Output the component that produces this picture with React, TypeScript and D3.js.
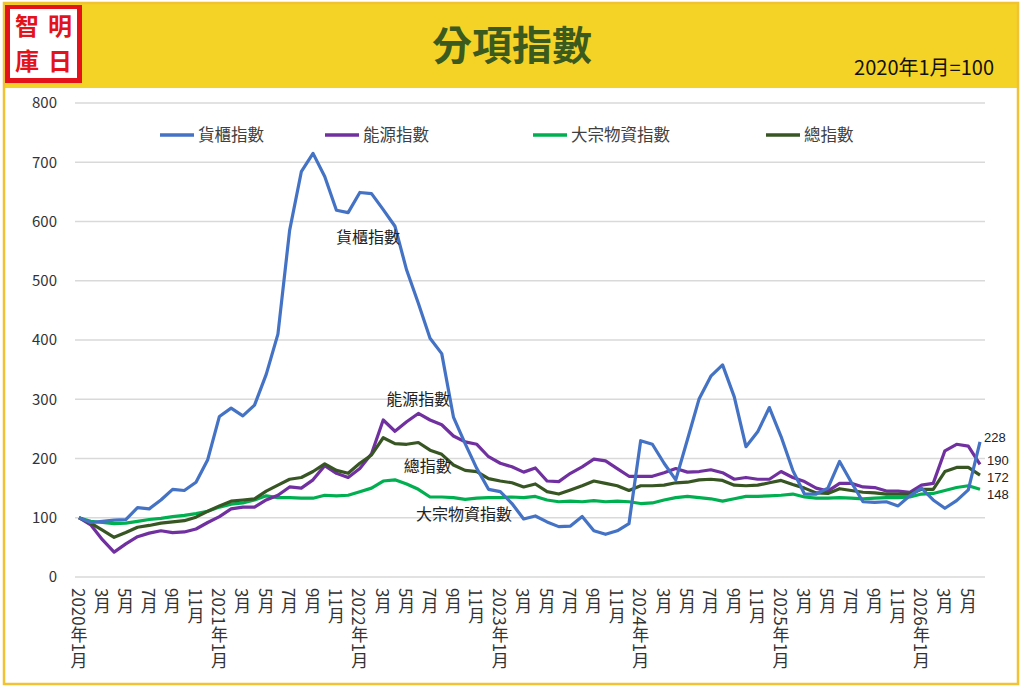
import * as d3 from 'd3'

// Monthly, 2020-01 .. 2026-06 (2020年1月 = 100)
const MONTHS = d3.range(78)

const CONTAINER = [
  100, 92, 94, 96, 97, 117, 115, 130, 148, 146, 160, 198,
  271, 285, 272, 290, 342, 410, 585, 684, 715, 676, 619, 615,
  649, 647, 620, 592, 518, 462, 403, 377, 270, 225, 183, 148,
  144, 124, 98, 103, 93, 85, 86, 102, 78, 72, 78, 90,
  230, 224, 192, 164, 232, 301, 339, 358, 304, 220, 245, 286,
  237, 180, 140, 140, 150, 195, 160, 127, 126, 127, 120, 137,
  150, 130, 116, 129, 147, 228,
]
const ENERGY = [
  100, 88, 63, 42, 56, 68, 74, 78, 75, 76, 81, 92,
  102, 115, 118, 118, 130, 138, 152, 150, 164, 188, 175, 168,
  183, 208, 265, 246, 262, 276, 265, 257, 238, 228, 224, 203,
  192, 186, 177, 184, 162, 161, 175, 186, 199, 196, 183, 170,
  170, 170, 176, 183, 177, 178, 181, 176, 165, 168, 165, 165,
  178, 168, 161, 150, 145, 158, 158, 152, 151, 145, 145, 143,
  155, 158, 213, 224, 221, 190,
]
const BULK = [
  100, 94, 92, 90, 91, 94, 97, 99, 102, 104, 107, 111,
  118, 123, 125, 130, 137, 134, 134, 133, 133, 138, 137, 138,
  144, 150, 162, 164, 157, 148, 135, 135, 134, 131, 133, 134,
  134, 135, 134, 136, 130, 127, 128, 127, 129, 127, 128, 127,
  124, 125, 130, 134, 136, 134, 132, 128, 132, 136, 136, 137,
  138, 140, 135, 133, 133, 134, 133, 132, 133, 134, 134, 135,
  140, 141, 146, 151, 154, 148,
]
const TOTAL = [
  100, 91, 79, 67, 75, 84, 87, 91, 93, 95, 101, 111,
  120, 128, 130, 132, 145, 155, 165, 168, 178, 191, 180, 175,
  192, 206, 235, 225, 224, 227, 214, 207, 189, 180, 178, 166,
  162, 159, 152, 157, 144, 140, 147, 154, 162, 158, 154, 146,
  154, 154, 155, 159, 160, 164, 165, 163, 155, 154, 155, 159,
  163, 156, 150, 142, 141, 149, 146, 143, 142, 140, 140, 140,
  148, 148, 178, 185, 185, 172,
]

const Y_TICKS = [0, 100, 200, 300, 400, 500, 600, 700, 800]

const SERIES_NAMES = ['貨櫃指數', '能源指數', '大宗物資指數', '總指數']
const SERIES_COLORS = ['#4472C4', '#7030A0', '#00B050', '#375623']
const SERIES_DATA = [CONTAINER, ENERGY, BULK, TOTAL]

// in-chart series labels, placed in data space (month index, value)
const INLINE_LABELS = [
  { text: '貨櫃指數', i: 24.7, v: 574 },
  { text: '能源指數', i: 29, v: 299 },
  { text: '總指數', i: 29.8, v: 186 },
  { text: '大宗物資指數', i: 32.9, v: 105 },
]

// end-of-line value labels
const END_LABELS = [
  { value: 228, dy: -4, dx: 4 },
  { value: 190, dy: -4, dx: 7 },
  { value: 172, dy: 2, dx: 7 },
  { value: 148, dy: 5, dx: 7 },
]

const LOGO = [
  { c: '智', col: 0, row: 0 },
  { c: '明', col: 1, row: 0 },
  { c: '庫', col: 0, row: 1 },
  { c: '日', col: 1, row: 1 },
]

function monthLabel(i: number): string {
  const y = 2020 + Math.floor(i / 12)
  const m = (i % 12) + 1
  return m === 1 ? `${y}年${m}月` : `${m}月`
}

const W = 1024
const H = 690
const FONT = '"Noto Sans CJK TC", "Noto Sans", sans-serif'

export default function App() {
  const x = d3.scalePoint<number>().domain(MONTHS).range([79, 980])
  const y = d3.scaleLinear().domain([0, 800]).range([577, 103])

  const line = d3
    .line<number>()
    .x((_, i) => x(i) ?? 0)
    .y((d) => y(d))

  const tickMonths = MONTHS.filter((i) => i % 2 === 0)
  const lastX = x(77) ?? 0

  return (
    <div style={{ position: 'absolute', left: 0, top: 0 }}>
      <svg width={W} height={H} style={{ display: 'block', background: '#fff' }}>
        {/* header band + frame */}
        <rect x={3} y={2} width={1016} height={86} fill="#F5D326" />
        <rect x={4} y={3} width={1014} height={681} fill="none" stroke="#F1C232" strokeWidth={2.5} />

        {/* logo */}
        <rect x={5} y={5} width={77} height={78} fill="#E3121B" />
        <rect x={10} y={9} width={67} height={69} fill="#fff" />
        {LOGO.map((l) => (
          <text
            key={l.c}
            x={27 + l.col * 33}
            y={26 + l.row * 35}
            dy="0.36em"
            textAnchor="middle"
            fontSize={24}
            fontWeight={700}
            fill="#E3121B"
            fontFamily={FONT}
          >
            {l.c}
          </text>
        ))}

        {/* title */}
        <text
          x={512}
          y={60}
          textAnchor="middle"
          fontSize={40}
          fontWeight={700}
          fill="#3B5A1E"
          fontFamily={FONT}
        >
          分項指數
        </text>
        <text x={994} y={75} textAnchor="end" fontSize={20} fill="#111" fontFamily={FONT}>
          2020年1月=100
        </text>

        {/* grid + y labels */}
        {Y_TICKS.map((t) => (
          <g key={t}>
            <line x1={75} x2={985} y1={y(t)} y2={y(t)} stroke="#D9D9D9" strokeWidth={1.3} />
            <text
              x={57}
              y={y(t)}
              dy="0.35em"
              textAnchor="end"
              fontSize={15}
              fill="#333"
              fontFamily={FONT}
            >
              {t}
            </text>
          </g>
        ))}

        {/* x labels, vertical */}
        {tickMonths.map((i) => (
          <text
            key={i}
            x={x(i)}
            y={588}
            fontSize={17}
            fill="#333"
            fontFamily={FONT}
            style={{ writingMode: 'vertical-rl' }}
          >
            {monthLabel(i)}
          </text>
        ))}

        {/* legend */}
        {SERIES_NAMES.map((name, k) => {
          const lx = [160, 325, 533, 766][k]
          return (
            <g key={name}>
              <line x1={lx} x2={lx + 34} y1={135} y2={135} stroke={SERIES_COLORS[k]} strokeWidth={3.5} />
              <text
                x={lx + 38}
                y={135}
                dy="0.35em"
                fontSize={16.5}
                fill="#404040"
                fontFamily={FONT}
              >
                {name}
              </text>
            </g>
          )
        })}

        {/* series, drawn bottom to top */}
        {[2, 1, 3, 0].map((k) => (
          <path
            key={k}
            d={line(SERIES_DATA[k]) ?? ''}
            fill="none"
            stroke={SERIES_COLORS[k]}
            strokeWidth={3.2}
            strokeLinejoin="round"
          />
        ))}

        {/* inline labels */}
        {INLINE_LABELS.map((l) => (
          <text
            key={l.text}
            x={79 + x.step() * l.i}
            y={y(l.v)}
            dy="0.35em"
            textAnchor="middle"
            fontSize={16}
            fill="#222"
            fontFamily={FONT}
          >
            {l.text}
          </text>
        ))}

        {/* end value labels */}
        {END_LABELS.map((l) => (
          <text
            key={l.value}
            x={lastX + l.dx}
            y={y(l.value) + l.dy}
            dy="0.35em"
            fontSize={13}
            fill="#222"
            fontFamily='"Liberation Sans", Arial, sans-serif'
          >
            {l.value}
          </text>
        ))}
      </svg>
    </div>
  )
}
